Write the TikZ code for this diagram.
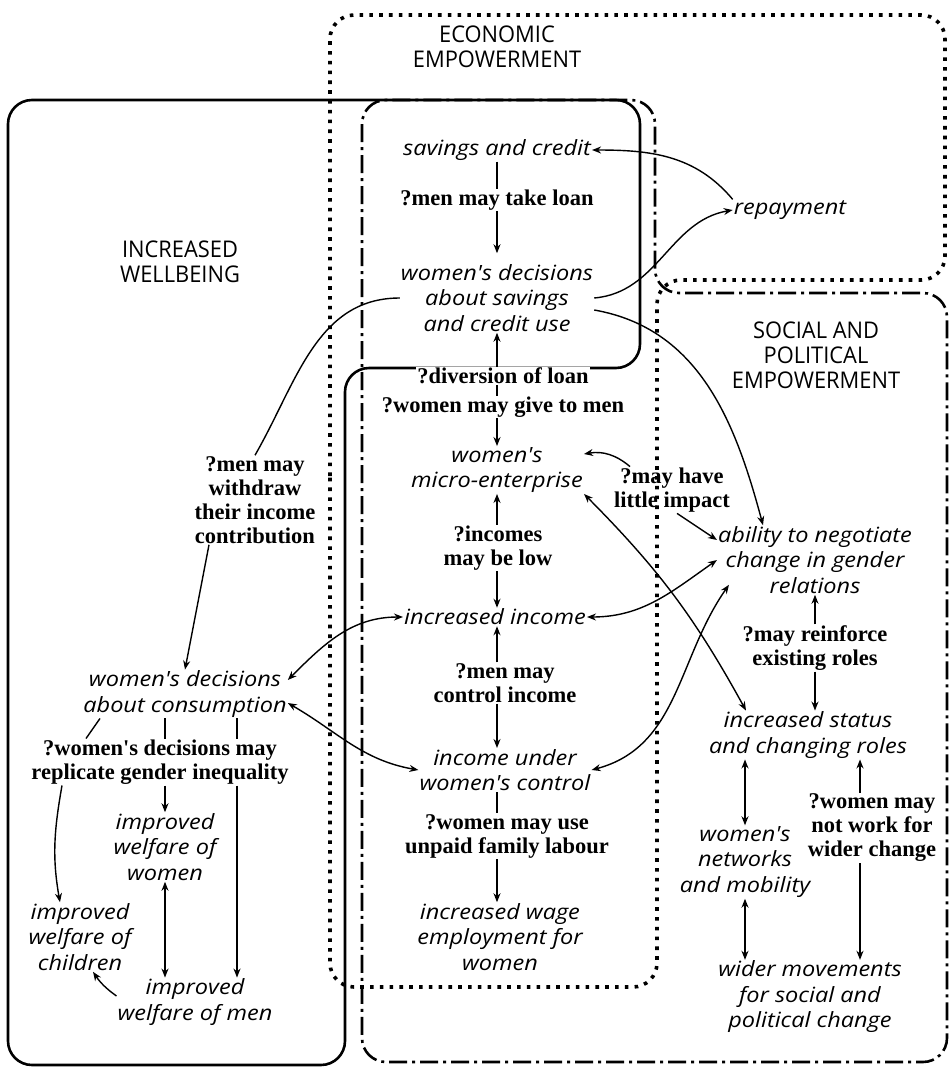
\documentclass[tikz,border=0pt]{standalone}
\usepackage{fontspec}
\usetikzlibrary{arrows.meta,calc}
\newfontfamily\handfont[FakeStretch=1.12]{Open Sans}
\newfontfamily\headfont[FakeStretch=0.95]{Open Sans}
\newfontfamily\qfont{Liberation Serif}

\begin{document}
\begin{tikzpicture}[x=1pt,y=1pt,
  hand/.style={font=\handfont\itshape\fontsize{21}{25.5}\selectfont,align=center,inner sep=1pt},
  qlab/.style={font=\qfont\bfseries\fontsize{22.5}{24}\selectfont,align=center,inner sep=1pt},
  head/.style={font=\headfont\fontsize{23}{25}\selectfont,align=center},
  ecobox/.style={line width=3.6pt,dash pattern=on 3.6pt off 6.2pt,rounded corners=24pt},
  wellbox/.style={line width=2.6pt,rounded corners=24pt},
  socbox/.style={line width=2.6pt,dash pattern=on 18pt off 5pt on 3pt off 5pt,rounded corners=24pt},
  link/.style={line width=1.4pt,-{Stealth[length=9pt,width=7pt]}},
  both/.style={line width=1.4pt,{Stealth[length=9pt,width=7pt]}-{Stealth[length=9pt,width=7pt]}},
  tick/.style={line width=1.4pt}]
\useasboundingbox (0,0) rectangle (949,-1069);

% the three overlapping regions
\draw[ecobox] (330,-500) -- (330,-15) -- (945,-15) -- (945,-280) -- (657,-280) -- (657,-987) -- (330,-987) -- cycle;
\draw[wellbox] (8,-500) -- (8,-100) -- (640,-100) -- (640,-368) -- (345,-368) -- (345,-1065) -- (8,-1065) -- cycle;
\draw[socbox] (362,-600) -- (362,-100) -- (655,-100) -- (655,-293) -- (947,-293) -- (947,-1062) -- (362,-1062) -- cycle;

\node[head] (econ) at (497,-47) {ECONOMIC\\EMPOWERMENT};
\node[head] (well) at (180,-262) {INCREASED\\WELLBEING};
\node[head] (social) at (816,-355) {SOCIAL AND\\POLITICAL\\EMPOWERMENT};

% economic column
\coordinate (col) at (497,0);
\node[hand] (savings) at (497,-150) {savings and credit};
\node[qlab] (q1) at (497,-200) {?men may take loan};
\node[hand] (repay) at (790,-210) {repayment};
\node[hand] (dsav) at (497,-298) {women's decisions\\about savings\\and credit use};
\node[qlab,fill=white] (q2) at (503,-376) {?diversion of loan};
\node[qlab] (q3) at (503,-407) {?women may give to men};
\node[hand] (enterp) at (497,-470) {women's\\micro-enterprise};
\node[qlab] (q4) at (498,-548) {?incomes\\may be low};
\node[qlab] (q5) at (672,-490) {?may have\\little impact};
\node[hand] (incinc) at (495,-617) {increased income};
\node[qlab] (q7) at (505,-683) {?men may\\control income};
\node[hand] (incctrl) at (505,-770) {income under\\women's control};
\node[qlab] (q9) at (507,-836) {?women may use\\unpaid family labour};
\node[hand] (wage) at (500,-937) {increased wage\\employment for\\women};

% wellbeing side
\node[qlab] (q6) at (255,-500) {?men may\\withdraw\\their income\\contribution};
\node[hand] (dcons) at (185,-694) {women's decisions\\about consumption};
\node[qlab] (q8) at (160,-762) {?women's decisions may\\replicate gender inequality};
\node[hand] (wwomen) at (165,-847) {improved\\welfare of\\women};
\node[hand] (wchild) at (80,-937) {improved\\welfare of\\children};
\node[hand] (wmen) at (195,-1002) {improved\\welfare of men};

% social and political side
\node[hand] (negot) at (815,-560) {ability to negotiate\\change in gender\\relations};
\node[qlab] (q10) at (815,-648) {?may reinforce\\existing roles};
\node[hand] (status) at (808,-735) {increased status\\and changing roles};
\node[hand] (networks) at (745,-862) {women's\\networks\\and mobility};
\node[qlab] (q11) at (872,-828) {?women may\\not work for\\wider change};
\node[hand] (wider) at (810,-997) {wider movements\\for social and\\political change};

% central chain
\draw[tick] (savings.south -| col) -- (q1.north -| col);
\draw[link,shorten >=10pt] (q1.south -| col) -- (dsav.north -| col);
\draw[link] (q2.north -| col) -- (dsav.south -| col);
\draw[tick] (q2.south -| col) -- (q3.north -| col);
\draw[link] (q3.south -| col) -- (enterp.north -| col);
\draw[link] (q4.north -| col) -- (enterp.south -| col);
\draw[link] (q4.south -| col) -- (incinc.north -| col);
\draw[link] (q7.north -| col) -- (incinc.south -| col);
\draw[link] (q7.south -| col) -- (incctrl.north -| col);
\draw[tick] (incctrl.south -| col) -- (q9.north -| col);
\draw[link] (q9.south -| col) -- (wage.north -| col);

% repayment loop
\draw[link] (repay.north west) to[out=130,in=0] (savings.east);
\draw[link] (dsav.east) to[out=5,in=190] (repay.west);

% cross links
\draw[link] ([yshift=-12pt]dsav.east) to[out=-10,in=105] ([xshift=-52pt]negot.north);
\draw[link] ([xshift=-42pt]q5.north) to[bend right=25] ([yshift=16pt]enterp.east);
\draw[link] ([xshift=5pt]q5.south) -- ([yshift=20pt]negot.west);
\draw[both] (enterp.south east) to[bend left=8] ([xshift=-62pt]status.north);
\draw[both] (incinc.east) to[out=0,in=215] (negot.west);
\draw[both] (incctrl.east) to[out=15,in=235] ([xshift=12pt,yshift=10pt]negot.south west);
\draw[tick] (dsav.west) to[out=180,in=60] (q6.north);
\draw[link] ([xshift=-46pt]q6.south) -- (dcons.north);
\draw[both] ([yshift=14pt]dcons.east) to[out=45,in=180] (incinc.west);
\draw[both] ([yshift=-9pt]dcons.east) to[out=-30,in=170] (incctrl.west);

% wellbeing branches
\draw[tick] ([xshift=-85pt]dcons.south) -- ([xshift=-74pt]q8.north);
\draw[tick] ([xshift=-20pt]dcons.south) -- ([xshift=5pt]q8.north);
\draw[tick] ([xshift=52pt]dcons.south) -- ([xshift=77pt]q8.north);
\draw[link] ([xshift=-98pt]q8.south) to[out=-100,in=100] ([xshift=-20pt]wchild.north);
\draw[link] (wwomen.north |- q8.south) -- (wwomen.north);
\draw[link] ([xshift=77pt]q8.south) -- ([xshift=77pt]q8.south |- wmen.north);
\draw[both] (wwomen.south) -- (wwomen.south |- wmen.north);
\draw[link] ([yshift=6pt]wmen.west) to[bend left=10] ([xshift=13pt]wchild.south);

% social branches
\draw[link] (q10.north) -- (negot.south);
\draw[link] (q10.south) -- (q10.south |- status.north);
\draw[both] (networks.north) -- (networks.north |- status.south);
\draw[both] (networks.south) -- (networks.south |- wider.north);
\draw[link] ([xshift=-12pt]q11.north) -- ([xshift=-12pt]q11.north |- status.south);
\draw[link] ([xshift=-12pt]q11.south) -- ([xshift=-12pt]q11.south |- wider.north);
\end{tikzpicture}
\end{document}
